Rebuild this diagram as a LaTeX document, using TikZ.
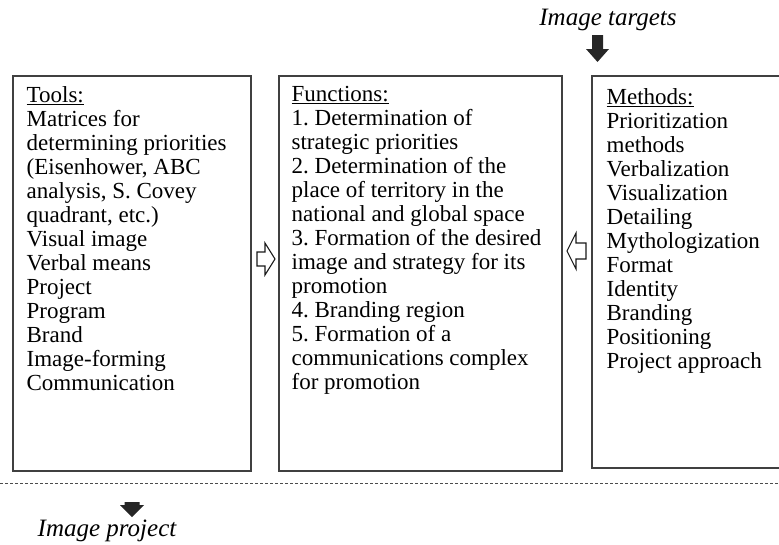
\documentclass[tikz,border=0pt]{standalone}
\usepackage{fontspec}
\setmainfont{Liberation Serif}
\usetikzlibrary{positioning}
\tikzset{
    box/.style={
        draw=black!75,
        line width=1.1pt,
        inner sep=0pt
    },
    boxtext/.style={
        anchor=north west,
        align=left,
        inner sep=0pt,
        font=\fontsize{23}{24}\selectfont
    },
    hollowarrow/.style={
        draw=black!90,
        line width=1.1pt,
        line join=miter,
        fill=white
    },
    blackarrow/.style={
        fill=black!85
    },
    label/.style={
        font=\fontsize{25}{28}\selectfont\itshape,
        inner sep=0pt
    }
}

\begin{document}
\frenchspacing
\begin{tikzpicture}[x=1pt,y=-1pt]
\useasboundingbox (0,0) rectangle (779,544);
% three boxes
\node[box,minimum width=238pt,minimum height=395pt] (tools) at (132,273.5) {};
\node[box,minimum width=283pt,minimum height=395pt] (functions) at (420.5,273.5) {};
\node[box,minimum width=189pt,minimum height=392pt] (methods) at (686.5,272) {};
% box contents
\node[boxtext] (toolstext) at ([shift={(14,11)}]tools.north west)
  {\underline{Tools:}\\ Matrices for\\ determining priorities\\ (Eisenhower, ABC\\
   analysis, S. Covey\\ quadrant, etc.)\\ Visual image\\ Verbal means\\ Project\\
   Program\\ Brand\\ Image-forming\\ Communication};
\node[boxtext] (functionstext) at ([shift={(13,11)}]functions.north west)
  {\underline{Functions:}\\ 1. Determination of\\ strategic priorities\\
   2. Determination of the\\ place of territory in the\\ national and global space\\
   3. Formation of the desired\\ image and strategy for its\\ promotion\\
   4. Branding region\\ 5. Formation of a\\ communications complex\\ for promotion};
\node[boxtext] (methodstext) at ([shift={(15,12.5)}]methods.north west)
  {\underline{Methods:}\\ Prioritization\\ methods\\ Verbalization\\ Visualization\\
   Detailing\\ Mythologization\\ Format\\ Identity\\ Branding\\ Positioning\\
   Project approach};
% hollow arrows between boxes
\coordinate (toolsarrow) at (257,259);
\draw[hollowarrow] (toolsarrow) ++(0,-7) -- ++(8,0) -- ++(0,-9) -- ++(10,16)
  -- ++(-10,16) -- ++(0,-9) -- ++(-8,0) -- cycle;
\coordinate (methodsarrow) at (586,251);
\draw[hollowarrow] (methodsarrow) ++(0,-8) -- ++(-10,0) -- ++(0,-10) -- ++(-9,18)
  -- ++(9,18) -- ++(0,-10) -- ++(10,0) -- cycle;
% targets on top
\node[label] (targets) at (608,20) {Image targets};
\coordinate (targetsarrow) at (597.5,35);
\fill[blackarrow] (targetsarrow) ++(-5.5,0) -- ++(11,0) -- ++(0,14) -- ++(6,0)
  -- ++(-11.5,13) -- ++(-11.5,-13) -- ++(6,0) -- cycle;
% dashed line and project below
\coordinate (dashleft) at (0,483);
\coordinate (dashright) at (779,483);
\draw[black!70,line width=0.9pt,dash pattern=on 3pt off 2pt] (dashleft) -- (dashright);
\coordinate (projectarrow) at (132,502);
\fill[blackarrow] (projectarrow) ++(-7.5,0) -- ++(15,0) -- ++(0,3) -- ++(4.5,0)
  -- ++(-12,12) -- ++(-12,-12) -- ++(4.5,0) -- cycle;
\node[label] (project) at (107,531) {Image project};
\end{tikzpicture}
\end{document}
